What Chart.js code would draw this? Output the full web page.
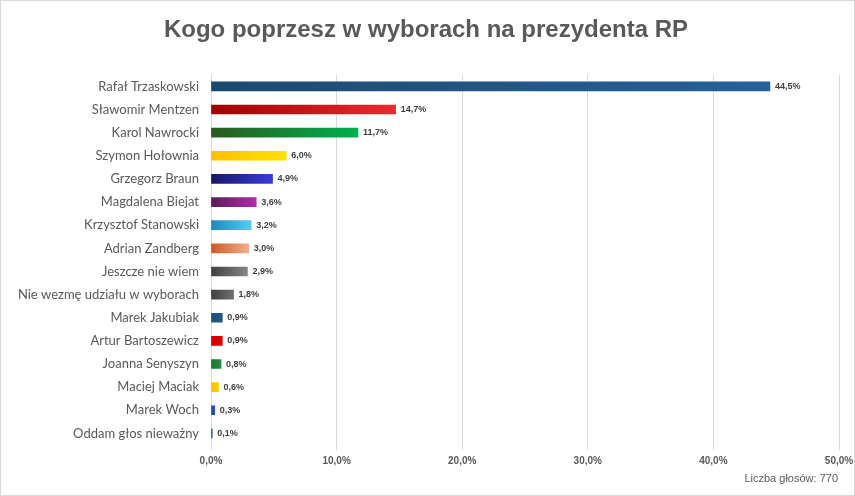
<!DOCTYPE html>
<html>
<head>
<meta charset="utf-8">
<script src="https://cdn.jsdelivr.net/npm/chart.js@4/dist/chart.umd.min.js"></script>
<style>
  html, body { margin: 0; padding: 0; background: #fff; }
  #wrap { position: relative; width: 855px; height: 496px; box-sizing: border-box; border: 1px solid #d9d9d9; }
  canvas { display: block; }
</style>
</head>
<body>
<div id="wrap"><canvas id="c" width="853" height="494" style="width:853px;height:494px"></canvas></div>
<script>
const titleText = 'Kogo poprzesz w wyborach na prezydenta RP';
const footnote = 'Liczba głosów: 770';
const categories = [
  'Rafał Trzaskowski', 'Sławomir Mentzen', 'Karol Nawrocki', 'Szymon Hołownia',
  'Grzegorz Braun', 'Magdalena Biejat', 'Krzysztof Stanowski', 'Adrian Zandberg',
  'Jeszcze nie wiem', 'Nie wezmę udziału w wyborach', 'Marek Jakubiak',
  'Artur Bartoszewicz', 'Joanna Senyszyn', 'Maciej Maciak', 'Marek Woch', 'Oddam głos nieważny'
];
const values = [44.5, 14.7, 11.7, 6.0, 4.9, 3.6, 3.2, 3.0, 2.9, 1.8, 0.9, 0.9, 0.8, 0.6, 0.3, 0.1];
const colorStart = ['#1b4a6e', '#a00000', '#2b5a1e', '#ffbf00', '#17176a', '#5a1a58', '#1f86bd', '#cc5a24', '#3f3f3f', '#3f3f3f', '#1f4e79', '#c80000', '#1c7032', '#ffc000', '#1a4d96', '#1f4e79'];
const colorEnd   = ['#26619c', '#ec2a2e', '#00b050', '#ffe100', '#3b3bd8', '#b12cab', '#5ccaf2', '#f4ab8c', '#858585', '#707070', '#215a8a', '#e00000', '#229040', '#ffd000', '#1f5aa6', '#2a5c88'];
const xTicks = [0, 10, 20, 30, 40, 50];

function fmt(v) { return v.toFixed(1).replace('.', ',') + '%'; }

const dataLabels = {
  id: 'dataLabels',
  afterDatasetsDraw(chart) {
    const ctx = chart.ctx;
    const meta = chart.getDatasetMeta(0);
    ctx.save();
    ctx.font = 'bold 9px "Liberation Sans", Arial, sans-serif';
    ctx.fillStyle = '#404040';
    ctx.textAlign = 'left';
    ctx.textBaseline = 'middle';
    meta.data.forEach((bar, i) => {
      ctx.fillText(fmt(values[i]), bar.x + 5, bar.y);
    });
    ctx.restore();
  }
};

const footPlugin = {
  id: 'foot',
  afterDraw(chart) {
    const ctx = chart.ctx;
    ctx.save();
    ctx.font = '11px "Liberation Sans", Arial, sans-serif';
    ctx.fillStyle = '#595959';
    ctx.textAlign = 'right';
    ctx.textBaseline = 'middle';
    ctx.fillText(footnote, 837, 478);
    ctx.restore();
  }
};

new Chart(document.getElementById('c'), {
  type: 'bar',
  data: {
    labels: categories,
    datasets: [{
      data: values,
      barThickness: 9,
      borderWidth: 0,
      backgroundColor(context) {
        const chart = context.chart;
        const i = context.dataIndex;
        const xs = chart.scales && chart.scales.x;
        if (!chart.chartArea || !xs || i === undefined) return colorStart[i] || '#1f4e79';
        const x0 = xs.getPixelForValue(0);
        const x1 = Math.max(xs.getPixelForValue(values[i]), x0 + 1);
        const g = chart.ctx.createLinearGradient(x0, 0, x1, 0);
        g.addColorStop(0, colorStart[i]);
        g.addColorStop(1, colorEnd[i]);
        return g;
      }
    }]
  },
  options: {
    indexAxis: 'y',
    responsive: false,
    animation: false,
    devicePixelRatio: 1,
    layout: { padding: { left: 12, right: 15, top: 0, bottom: 0 } },
    plugins: {
      legend: { display: false },
      tooltip: { enabled: false },
      title: {
        display: true,
        text: titleText,
        color: '#595959',
        font: { family: '"Liberation Sans", Arial, sans-serif', size: 24, weight: 'bold' },
        padding: { top: 15, bottom: 30 }
      }
    },
    scales: {
      x: {
        min: 0, max: 50,
        afterBuildTicks(scale) { scale.ticks = xTicks.map(v => ({ value: v })); },
        afterFit(scale) { scale.height = 50; scale.paddingRight = 0; scale.paddingLeft = 0; },
        border: { display: false },
        grid: { color: '#d9d9d9', lineWidth: 1, tickLength: 5, drawTicks: true },
        ticks: {
          color: '#595959',
          padding: 5,
          font: { family: '"Liberation Sans", Arial, sans-serif', size: 10, weight: 'bold' },
          callback(v) { return fmt(v); }
        }
      },
      y: {
        afterFit(scale) { scale.width = 198; },
        border: { display: true, color: '#d9d9d9', width: 1 },
        grid: { display: false, drawTicks: false },
        ticks: {
          color: '#595959',
          padding: 12,
          font: { family: 'Lato, "Noto Sans", sans-serif', size: 13 }
        }
      }
    }
  },
  plugins: [dataLabels, footPlugin]
});
</script>
</body>
</html>
